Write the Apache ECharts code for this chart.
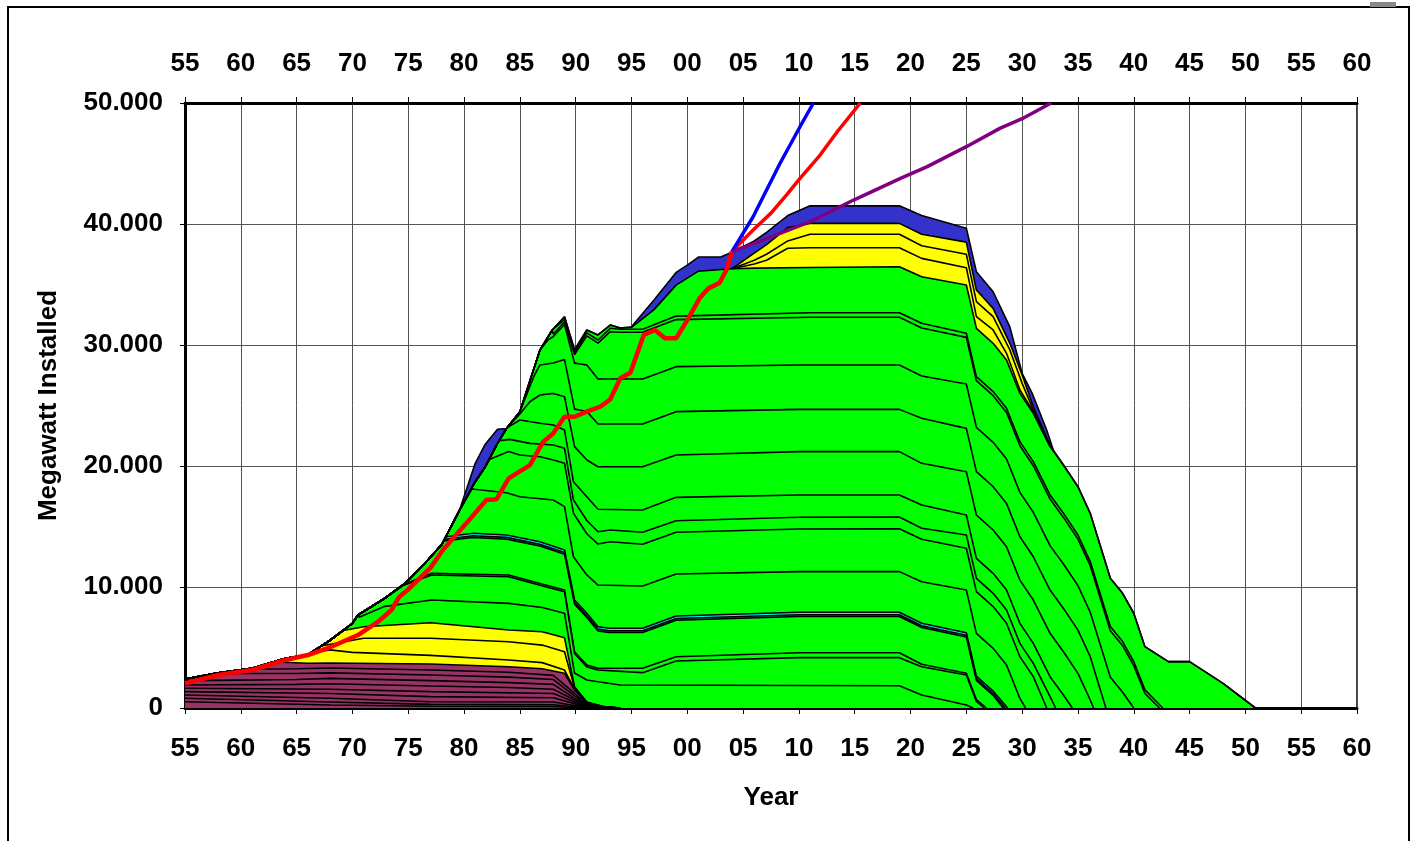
<!DOCTYPE html>
<html>
<head>
<meta charset="utf-8">
<title>Megawatt Installed</title>
<script src="https://cdn.jsdelivr.net/npm/echarts@6/dist/echarts.min.js"></script>
<style>
  html, body { margin: 0; padding: 0; background: #fff; }
  #chart { width: 1416px; height: 841px; }
</style>
</head>
<body>
<div id="chart"></div>
<script>
// tick labels
var yLabels = ['0', '10.000', '20.000', '30.000', '40.000', '50.000'];

// outer envelope (top of the blue layer), [year, MW]
var blueTop = [[1955,2400],[1958,2900],[1961,3280],[1964,4100],[1966,4400],[1968,5600],[1970,7000],[1970.5,7690],[1972.9,9070],[1974.7,10300],[1976.5,11960],[1978,13500],[1979.6,16360],[1981,20220],[1981.9,21800],[1983,23030],[1983.8,23100],[1985,24490],[1986.8,29590],[1987.9,31240],[1989,32340],[1989.9,29590],[1991,31240],[1992,30830],[1993.1,31650],[1994,31400],[1995,31500],[1997,33700],[1999,36000],[2000,36600],[2001,37270],[2003,37270],[2004.1,37700],[2006,38600],[2007.1,39300],[2009,40700],[2011,41500],[2019,41500],[2021,40700],[2025,39650],[2025.9,36060],[2027.4,34400],[2028.9,31500],[2030,27660],[2030.9,26000],[2032.2,22970],[2032.8,21300],[2033.7,20080],[2035,18290],[2036.1,16090],[2037.9,10720],[2039,9480],[2040,7830],[2041,5070],[2043.1,3830],[2045,3830],[2048,2040],[2050.9,0],[2060,0]];

// top of the green block
var greenTop = [[1955,2400],[1958,2900],[1961,3280],[1964,4100],[1966,4400],[1968,5600],[1970,7000],[1970.5,7690],[1972.9,9070],[1974.7,10300],[1976.5,11960],[1978,13500],[1979.6,16360],[1981,18700],[1981.9,19940],[1983,21870],[1983.8,23100],[1985,24490],[1986.8,29590],[1987.9,31240],[1989,32340],[1989.9,29590],[1991,31240],[1992,30830],[1993.1,31650],[1994,31400],[1995,31450],[1997,32900],[1999,34950],[2001,36100],[2004,36300],[2006,36350],[2011,36400],[2019,36470],[2021,35640],[2025,34960],[2025.9,31380],[2027.4,30140],[2028.6,28760],[2029.8,26000],[2031,24350],[2032.5,21600],[2033.7,20080],[2035,18290],[2036.1,16090],[2037.9,10720],[2039,9480],[2040,7830],[2041,5070],[2043.1,3830],[2045,3830],[2048,2040],[2050.9,0],[2060,0]];

// late yellow layers (after 2004)
var lateYellowA = [[2004,36300],[2006,37600],[2007.1,38300],[2009,39700],[2011,40050],[2019,40050],[2021,39150],[2025,38500],[2025.9,34540],[2027.4,33030],[2028.9,30140],[2030,27520],[2031,24900],[2032.5,21700]];
var lateYellowB = [[2004,36300],[2006,37000],[2007.1,37500],[2009,38600],[2011,39150],[2019,39150],[2021,38200],[2025,37500],[2025.9,33580],[2027.4,32340],[2028.9,29590],[2030,26830],[2031,24630],[2032.5,21650]];
var lateYellowC = [[2004,36300],[2006,36700],[2007.1,37000],[2009,38000],[2011,38040],[2019,38040],[2021,37160],[2025,36390],[2025.9,32340],[2027.4,31240],[2028.6,29310],[2029.8,26280],[2031,24500],[2032.5,21620]];

// green cohort boundaries, top to bottom
var green1 = [[1988,31100],[1989,32100],[1989.9,29400],[1991,31000],[1992,30410],[1993.1,31380],[1994,31300],[1996,31300],[1999,32390],[2011,32670],[2019,32670],[2021,31790],[2025,30970],[2025.9,27390],[2027.4,26150],[2028.6,24770],[2029.8,22010],[2031,20360],[2032.5,17610],[2033.7,16090],[2035,14300],[2036.1,12100],[2037.9,6730],[2039,5490],[2040,3840],[2041,1500],[2042.6,0]];
var green2 = [[1988,30900],[1989,31900],[1989.9,29200],[1991,30750],[1992,30150],[1993.1,31100],[1994,31050],[1996,31050],[1999,32100],[2011,32290],[2019,32290],[2021,31400],[2025,30630],[2025.9,27050],[2027.4,25810],[2028.6,24430],[2029.8,21670],[2031,20020],[2032.5,17270],[2033.7,15750],[2035,13960],[2036.1,11760],[2037.9,6390],[2039,5150],[2040,3500],[2041,1200],[2042.3,0]];
var green3 = [[1987.5,30400],[1988,30700],[1989,31700],[1989.9,28500],[1991,28350],[1992,27190],[1996,27190],[1999,28210],[2010,28350],[2019,28350],[2021,27440],[2025,26780],[2025.9,23200],[2027.4,21960],[2028.6,20580],[2029.8,17820],[2031,16170],[2032.5,13420],[2033.7,11900],[2035,10110],[2036.1,7910],[2037.9,2540],[2039,1300],[2040,0]];
var green4 = [[1986.3,27500],[1986.8,28350],[1988,28510],[1989,28810],[1989.9,24700],[1991,24500],[1992,23470],[1996,23470],[1999,24490],[2010,24680],[2019,24680],[2021,23940],[2025,23110],[2025.9,19530],[2027.4,18290],[2028.6,16910],[2029.8,14150],[2031,12500],[2032.5,9750],[2033.7,8230],[2035,6440],[2036.1,4240],[2037.5,0]];
var green5 = [[1985,24300],[1985.9,25310],[1986.8,25870],[1988,26000],[1989,25730],[1989.9,21600],[1991,20500],[1992,19940],[1996,19940],[1999,20910],[2010,21190],[2019,21190],[2021,20220],[2025,19530],[2025.9,15950],[2027.4,14710],[2028.6,13330],[2029.8,10570],[2031,8920],[2032.5,6170],[2033.7,4650],[2035,2860],[2036.1,660],[2036.4,0]];
var green6 = [[1984.1,23300],[1985,23800],[1986.8,23530],[1988,23390],[1989,22970],[1989.8,18700],[1991,17460],[1992,16420],[1996,16360],[1999,17410],[2010,17600],[2019,17600],[2021,16780],[2025,15950],[2025.9,12370],[2027.4,11130],[2028.6,9750],[2029.8,6990],[2031,5340],[2032.5,2590],[2033.7,1070],[2034.5,0]];
var green7 = [[1983.2,22100],[1984.1,22200],[1985.9,21870],[1988,21730],[1989,21460],[1989.8,17200],[1991,15500],[1992,14570],[1993.1,14710],[1996,14520],[1999,15480],[2010,15760],[2019,15790],[2021,14850],[2025,14300],[2025.9,10720],[2027.4,9480],[2028.6,8100],[2029.8,5340],[2031,3690],[2032.5,940],[2033,0]];
var green8 = [[1982.3,20550],[1984,21190],[1985,20910],[1986.8,20770],[1988,20500],[1989,20220],[1989.8,16100],[1991,14400],[1992,13550],[1993.1,13740],[1996,13530],[1999,14520],[2010,14790],[2019,14820],[2021,13940],[2025,13200],[2025.9,9620],[2027.4,8380],[2028.6,7000],[2029.8,4240],[2031,2590],[2032.2,0]];
var green9 = [[1980.7,18100],[1983.8,17790],[1985,17460],[1988,17190],[1989,16640],[1989.8,12500],[1991,11000],[1992,10160],[1996,10080],[1999,11070],[2010,11270],[2019,11270],[2021,10440],[2025,9750],[2025.9,6170],[2027.4,4930],[2028.6,3550],[2029.8,790],[2030.3,0]];
var green10 = [[1978.4,14150],[1980.8,14440],[1983.8,14300],[1986.8,13740],[1989,13060],[1989.9,8930],[1991,7830],[1992,6720],[1993,6590],[1996,6590],[1999,7600],[2010,7910],[2019,7910],[2021,7000],[2025,6220],[2025.9,2640],[2027.4,1400],[2028.7,0]];
var green10b = [[1978.3,13950],[1980.8,14240],[1983.8,14100],[1986.8,13540],[1989,12860],[1989.9,8730],[1991,7630],[1992,6520],[1993,6390],[1996,6390],[1999,7400],[2010,7710],[2019,7710],[2021,6800],[2025,6020],[2025.9,2440],[2027.4,1200],[2028.5,0]];
var green10c = [[1978.2,13800],[1980.8,14090],[1983.8,13950],[1986.8,13390],[1989,12710],[1989.9,8580],[1991,7480],[1992,6370],[1993,6240],[1996,6240],[1999,7250],[2010,7560],[2019,7560],[2021,6650],[2025,5870],[2025.9,2290],[2027.4,1050],[2028.3,0]];
var green11 = [[1974.7,10250],[1977.1,11130],[1984,10990],[1987.3,10160],[1989,9750],[1989.9,4650],[1991,3550],[1992,3280],[1996,3280],[1999,4240],[2010,4570],[2019,4570],[2021,3610],[2025,2870],[2025.9,700],[2026.8,0]];
var green12 = [[1974.5,10100],[1977.1,10990],[1984,10850],[1987.3,10020],[1989,9610],[1989.9,4500],[1991,3400],[1992,3140],[1996,2920],[1999,3880],[2010,4160],[2019,4160],[2021,3410],[2025,2730],[2025.9,550],[2026.6,0]];
var green13 = [[1970.6,7500],[1972.9,8400],[1977.1,8930],[1984,8650],[1987,8300],[1989,7830],[1989.9,2890],[1991,2310],[1992,2170],[1994,1900],[2019,1840],[2021,1070],[2025,250],[2025.6,0]];

// early yellow layers
var yellow0 = [[1969.2,6400],[1971,6720],[1977,7050],[1984,6450],[1987,6300],[1989,5800],[1989.9,1760],[1991,500],[1992.5,130],[1994,0]];
var yellow1 = [[1967.3,5150],[1971,5760],[1977,5760],[1984,5480],[1987,5200],[1989,4650],[1989.9,1650],[1991,470],[1992.5,110],[1994,0]];
var yellow2 = [[1966.3,4560],[1968,4800],[1970,4600],[1977,4350],[1984,3970],[1987,3750],[1989,3140],[1989.9,1550],[1991,450],[1992.5,100],[1994,0]];

// maroon layers
var maroon0 = [[1963.2,3800],[1966,3700],[1968,3720],[1977,3640],[1984,3410],[1987,3250],[1989,2870],[1989.9,1490],[1991,430],[1992.5,90],[1994,0]];
var maroon1 = [[1961,3200],[1965,3250],[1968,3300],[1977,3140],[1984,2950],[1988,2700],[1989.9,1200],[1991,330],[1993,0]];
var maroon2 = [[1958.3,2850],[1965,2850],[1968,2900],[1977,2730],[1984,2550],[1988,2350],[1989.9,1000],[1991,250],[1992.8,0]];
var maroon3 = [[1955,2260],[1960,2300],[1965,2350],[1968,2450],[1977,2260],[1984,2100],[1988,1950],[1989.9,800],[1991,200],[1992.5,0]];
var maroon4 = [[1955,1900],[1965,1950],[1968,2000],[1977,1820],[1984,1700],[1988,1550],[1989.9,650],[1991,150],[1992.3,0]];
var maroon5 = [[1955,1630],[1968,1550],[1977,1350],[1988,1200],[1989.9,500],[1991,100],[1992,0]];
var maroon6 = [[1955,1350],[1968,1200],[1977,940],[1988,850],[1989.9,350],[1991,60],[1991.8,0]];
var maroon7 = [[1955,1070],[1968,800],[1977,520],[1988,500],[1989.9,200],[1991,0]];
var maroon8 = [[1955,800],[1968,500],[1977,300],[1988,270],[1989.9,100],[1990.7,0]];
var maroon9 = [[1955,520],[1968,250],[1977,150],[1988,130],[1990.3,0]];

// overlay lines
var redActual = [[1955,2040],[1958,2730],[1961,3140],[1964,3970],[1966,4380],[1968,5020],[1970.5,6030],[1972.3,7130],[1973.5,8100],[1974.2,9200],[1975,9800],[1976,10700],[1977,11600],[1978.1,13060],[1980.2,15260],[1982,17190],[1982.9,17250],[1984,18980],[1985.9,20080],[1987.1,22010],[1988,22700],[1989,24070],[1989.9,24070],[1991,24490],[1992.2,24900],[1993.1,25510],[1994,27250],[1994.9,27710],[1996.1,30830],[1997.1,31240],[1998,30550],[1999,30550],[2000,32060],[2001.1,33860],[2001.9,34680],[2002.9,35150],[2003.5,36200],[2004,37720]];
var redProjection = [[2004,37720],[2005.9,39500],[2007.5,40900],[2008.9,42400],[2010.1,43770],[2011.9,45700],[2013.5,47700],[2015.5,50000]];
var blueProjection = [[2004,37720],[2005.9,40600],[2008.3,45000],[2010.1,48040],[2011.3,50000]];
var purpleProjection = [[2004,37720],[2007.1,38800],[2011,40190],[2014.9,41980],[2019.1,43770],[2021.5,44740],[2025,46390],[2028,47900],[2030,48700],[2032.6,50000]];

var FONT = 'Liberation Sans, Arial, sans-serif';
var BLUE = '#3333CC', YELLOW = '#FFFF00', GREEN = '#00FF00', CYAN = '#00FFFF',
    TEAL = '#008080', MAROON = '#993366';

// lower boundaries follow the green top until their own first year
function withPrefix(points) {
  var start = points[0][0];
  return greenTop.filter(function (p) { return p[0] < start; }).concat(points);
}

function band(points, color) {
  return {
    type: 'line',
    data: points,
    symbol: 'none',
    silent: true,
    lineStyle: { color: '#000', width: 1.6 },
    areaStyle: { color: color, opacity: 1 }
  };
}

function overlay(points, color, width) {
  return {
    type: 'line',
    data: points,
    symbol: 'none',
    silent: true,
    lineStyle: { color: color, width: width }
  };
}

var layers = [
  [blueTop, BLUE, false],
  [lateYellowA, YELLOW, false],
  [lateYellowB, YELLOW, false],
  [lateYellowC, YELLOW, false],
  [greenTop, GREEN, false],
  [green1, GREEN, true], [green2, GREEN, true], [green3, GREEN, true],
  [green4, GREEN, true], [green5, GREEN, true], [green6, GREEN, true],
  [green7, GREEN, true], [green8, GREEN, true], [green9, GREEN, true],
  [green10, CYAN, true], [green10b, TEAL, true], [green10c, GREEN, true],
  [green11, GREEN, true], [green12, GREEN, true], [green13, GREEN, true],
  [yellow0, YELLOW, true], [yellow1, YELLOW, true], [yellow2, YELLOW, true],
  [maroon0, MAROON, true], [maroon1, MAROON, true], [maroon2, MAROON, true],
  [maroon3, MAROON, true], [maroon4, MAROON, true], [maroon5, MAROON, true],
  [maroon6, MAROON, true], [maroon7, MAROON, true], [maroon8, MAROON, true],
  [maroon9, MAROON, true]
];

var series = layers.map(function (l) {
  return band(l[2] ? withPrefix(l[0]) : l[0], l[1]);
});
series.push(overlay(redActual, '#FF0000', 4.5));
series.push(overlay(redProjection, '#FF0000', 3.5));
series.push(overlay(blueProjection, '#0000FF', 3.5));
series.push(overlay(purpleProjection, '#800080', 3.5));

var labelStyle = { fontFamily: FONT, fontWeight: 'bold', fontSize: 26, color: '#000' };

function yearLabel(v) {
  var s = String(Math.round(v) % 100);
  return s.length < 2 ? '0' + s : s;
}

var chart = echarts.init(document.getElementById('chart'));
chart.setOption({
  animation: false,
  backgroundColor: '#fff',
  grid: {
    left: 185, top: 103, width: 1172, height: 605,
    show: true, borderColor: '#000', borderWidth: 1.5, backgroundColor: 'transparent'
  },
  xAxis: [
    {
      type: 'value', min: 1955, max: 2060, interval: 5, position: 'bottom',
      axisLine: { lineStyle: { color: '#000', width: 3 } },
      axisTick: { length: 6, lineStyle: { color: '#000', width: 1 } },
      axisLabel: Object.assign({ margin: 28, formatter: yearLabel }, labelStyle),
      splitLine: { show: true, lineStyle: { color: '#555', width: 1 } },
      name: 'Year', nameLocation: 'middle', nameGap: 77,
      nameTextStyle: labelStyle
    },
    {
      type: 'value', min: 1955, max: 2060, interval: 5, position: 'top',
      axisLine: { lineStyle: { color: '#000', width: 3 } },
      axisTick: { length: 6, lineStyle: { color: '#000', width: 1 } },
      axisLabel: Object.assign({ margin: 26, formatter: yearLabel }, labelStyle),
      splitLine: { show: false }
    }
  ],
  yAxis: {
    type: 'value', min: 0, max: 50000, interval: 10000,
    axisLine: { show: true, lineStyle: { color: '#000', width: 3 } },
    axisTick: { show: true, length: 5, lineStyle: { color: '#000', width: 1 } },
    axisLabel: Object.assign({
      margin: 22,
      formatter: function (v) { return yLabels[Math.round(v / 10000)]; }
    }, labelStyle),
    splitLine: { show: true, lineStyle: { color: '#555', width: 1 } },
    name: 'Megawatt Installed', nameLocation: 'middle', nameGap: 123, nameRotate: 90,
    nameTextStyle: labelStyle
  },
  graphic: [
    { type: 'rect', shape: { x: 8, y: 7, width: 1401, height: 850 },
      style: { fill: null, stroke: '#000', lineWidth: 2 }, silent: true },
    { type: 'rect', shape: { x: 1370, y: 2, width: 26, height: 5 },
      style: { fill: '#888' }, silent: true }
  ],
  series: series
});
</script>
</body>
</html>
